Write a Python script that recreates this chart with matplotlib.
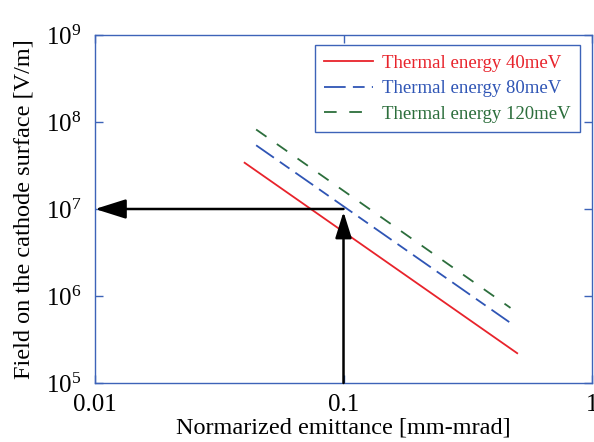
"""Field on cathode surface vs normalized emittance for thermal energies."""

import matplotlib
matplotlib.use('Agg')
import matplotlib.pyplot as plt
from matplotlib.ticker import NullLocator

plt.rcParams['font.family'] = ['Liberation Serif', 'DejaVu Serif']
plt.rcParams['mathtext.fontset'] = 'custom'
plt.rcParams['mathtext.rm'] = 'Liberation Serif'
plt.rcParams['mathtext.it'] = 'Liberation Serif:italic'

# Data (straight lines on log-log axes)
labels = ['Thermal energy 40meV', 'Thermal energy 80meV', 'Thermal energy 120meV']
emit_40 = [0.040, 0.50]
field_40 = [3.4e7, 2.2e5]
emit_80 = [0.0445, 0.47]
field_80 = [5.4e7, 4.9e5]
emit_120 = [0.0445, 0.47]
field_120 = [8.2e7, 7.3e5]

# Working point marked by the arrows
target_emit = 0.1
target_field = 1e7

red = '#e8232b'
blue = '#2f55b5'
green = '#2c6e3c'
spine = '#3d63b8'

fig = plt.figure(figsize=(5.94, 4.42), dpi=100)
ax = fig.add_axes([0.16, 0.1335, 0.8366, 0.7873])

ax.plot(emit_40, field_40, color=red, lw=1.3, label=labels[0])
ax.plot(emit_80, field_80, color=blue, lw=1.3, dashes=(12, 4, 6.5, 4), label=labels[1])
ax.plot(emit_120, field_120, color=green, lw=1.3, dashes=(7, 7), label=labels[2])

# Arrows
ax.annotate('', xy=(0.01, target_field), xytext=(target_emit, target_field),
            arrowprops=dict(arrowstyle='-|>,head_length=1.9,head_width=0.6',
                            color='black', lw=1.8, shrinkA=0, shrinkB=0))
ax.annotate('', xy=(target_emit, 0.93 * target_field), xytext=(target_emit, 1e5),
            arrowprops=dict(arrowstyle='-|>,head_length=1.6,head_width=0.5',
                            color='black', lw=1.8, shrinkA=0, shrinkB=0))

ax.set_xscale('log')
ax.set_yscale('log')
ax.set_xlim(0.01, 1)
ax.set_ylim(1e5, 1e9)
ax.xaxis.set_minor_locator(NullLocator())
ax.yaxis.set_minor_locator(NullLocator())
ax.set_xticks([0.01, 0.1, 1])
ax.set_xticklabels(['0.01', '0.1', '1'])
ax.set_yticks([1e5, 1e6, 1e7, 1e8, 1e9])
ax.set_yticklabels([r'$10^{%d}$' % p for p in range(5, 10)])

ax.tick_params(which='both', direction='in', length=6, width=1, color=spine,
               top=True, right=True, labelsize=18, pad=8)
ax.tick_params(axis='y', pad=10)
for s in ax.spines.values():
    s.set_color(spine)
    s.set_linewidth(1.0)

ax.set_xlabel('Normarized emittance [mm-mrad]', fontsize=17.5, labelpad=1)
ax.set_ylabel('Field on the cathode surface [V/m]', fontsize=17.5, labelpad=8)

leg = ax.legend(loc='upper right', bbox_to_anchor=(0.976, 0.971), borderaxespad=0,
                fontsize=13.5, frameon=True, fancybox=False, edgecolor=spine,
                framealpha=1, handlelength=2.6, borderpad=0.5, labelspacing=0.45,
                handletextpad=0.5)
leg.get_frame().set_linewidth(1.0)
for text, c in zip(leg.get_texts(), [red, blue, green]):
    text.set_color(c)

fig.savefig('out.png', dpi=100)
plt.close(fig)
